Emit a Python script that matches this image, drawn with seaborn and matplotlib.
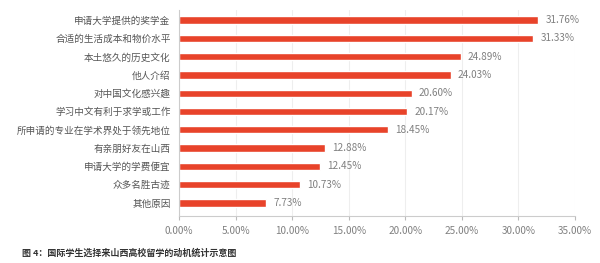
import matplotlib
matplotlib.use("Agg")
import matplotlib.pyplot as plt
import seaborn as sns
import pandas as pd

categories = ["申请大学提供的奖学金", "合适的生活成本和物价水平", "本土悠久的历史文化", "他人介绍",
              "对中国文化感兴趣", "学习中文有利于求学或工作", "所申请的专业在学术界处于领先地位",
              "有亲朋好友在山西", "申请大学的学费便宜", "众多名胜古迹", "其他原因"]
values = [31.76, 31.33, 24.89, 24.03, 20.60, 20.17, 18.45, 12.88, 12.45, 10.73, 7.73]
xticks = [0, 5, 10, 15, 20, 25, 30, 35]
caption = "图 4：国际学生选择来山西高校留学的动机统计示意图"

sns.set_theme(style="white")
plt.rcParams['font.family'] = ['Noto Sans CJK SC', 'DejaVu Sans']

df = pd.DataFrame({"cat": categories, "val": values})

fig = plt.figure(figsize=(6, 2.63), dpi=100)
ax = fig.add_axes([179/600, 47/263, 396/600, 206/263])
sns.barplot(data=df, x="val", y="cat", color="#E8432A", width=0.4, ax=ax, saturation=1)

ax.set_xlim(0, 35)
ax.set_ylim(10.71, -0.55)
ax.set_xticks(xticks)
ax.set_xticklabels([f"{t:.2f}%" for t in xticks], color="#808080", fontsize=7.2)
ax.tick_params(axis="y", labelsize=6.9, labelcolor="#555555", length=3, color="#bbbbbb", width=0.8, pad=3)
ax.tick_params(axis="x", length=3, color="#bbbbbb", width=0.8, pad=4, bottom=True)
ax.set_xlabel("")
ax.set_ylabel("")
ax.xaxis.grid(True, color="#eeeeee", linewidth=0.8)
ax.set_axisbelow(True)
for s in ["top", "right"]:
    ax.spines[s].set_visible(False)
for s in ["left", "bottom"]:
    ax.spines[s].set_color("#cccccc")
    ax.spines[s].set_linewidth(0.8)

for i, v in enumerate(values):
    ax.annotate(f"{v:.2f}%", (v, i), xytext=(5, 0), textcoords="offset points",
                va="center", ha="left", fontsize=7.2, color="#808080")

fig.text(22/600, 1 - 253/263, caption, fontsize=6.5, color="#333333", va="center", ha="left", fontweight="bold")

fig.savefig("out.png", dpi=100)
